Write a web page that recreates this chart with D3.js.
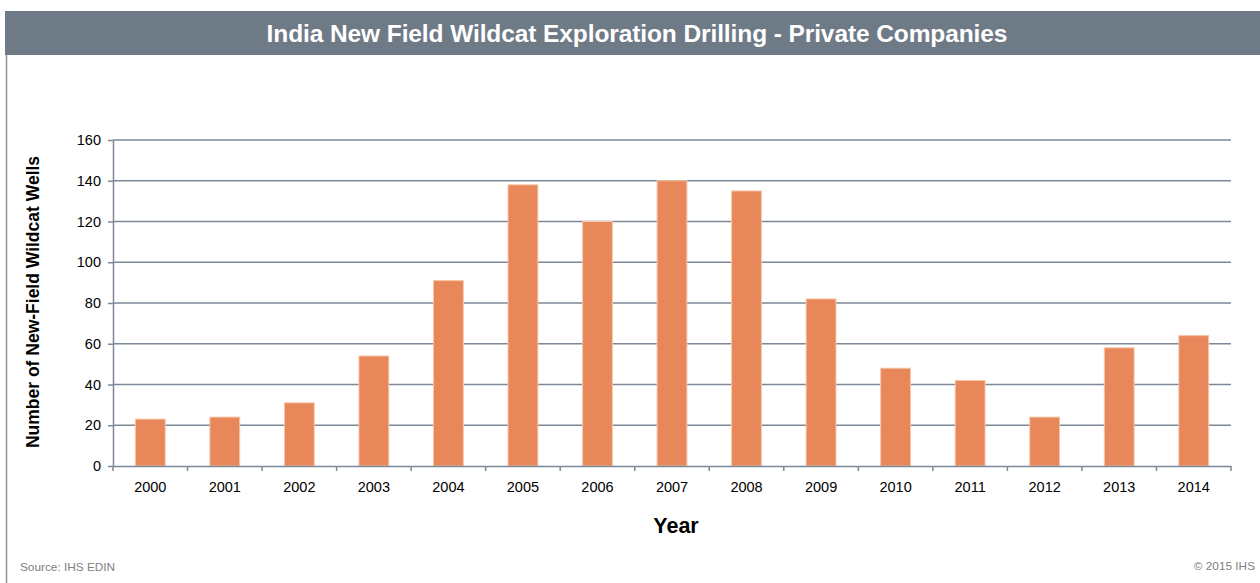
<!DOCTYPE html>
<html>
<head>
<meta charset="utf-8">
<script src="https://cdn.jsdelivr.net/npm/d3@7"></script>
<style>
  body { margin: 0; background: #fff; }
  svg text { font-family: "Liberation Sans", Arial, sans-serif; }
</style>
</head>
<body>
<div id="chart-container"></div>
<script>
// chart data
var years = ['2000', '2001', '2002', '2003', '2004', '2005', '2006', '2007',
             '2008', '2009', '2010', '2011', '2012', '2013', '2014'];
var wells = [23, 24, 31, 54, 91, 138, 120, 140, 135, 82, 48, 42, 24, 58, 64];
var yTicks = [0, 20, 40, 60, 80, 100, 120, 140, 160];

var title = 'India New Field Wildcat Exploration Drilling - Private Companies';

const svgWidth = 1260;
const svgHeight = 583;
const margin = {top: 140, left: 113, bottom: 117, right: 29};
const w = svgWidth - margin.left - margin.right;
const h = svgHeight - margin.top - margin.bottom;

const svg = d3.select('#chart-container')
    .append('svg')
    .attr('width', svgWidth)
    .attr('height', svgHeight);

// title bar
svg.append('rect')
    .attr('x', 5).attr('y', 11)
    .attr('width', svgWidth - 5).attr('height', 44)
    .attr('fill', '#6f7a87');
svg.append('text')
    .attr('x', 637).attr('y', 42)
    .attr('text-anchor', 'middle')
    .attr('fill', '#fff')
    .attr('font-size', 24.5)
    .attr('font-weight', 'bold')
    .attr('letter-spacing', -0.1)
    .text(title);

// left border of frame
svg.append('line')
    .attr('x1', 6.5).attr('x2', 6.5)
    .attr('y1', 55).attr('y2', svgHeight)
    .attr('stroke', '#8a93a0').attr('stroke-width', 1.5);

const chart = svg.append('g')
    .attr('transform', 'translate(' + margin.left + ',' + margin.top + ')');

var x = d3.scaleBand()
    .domain(years)
    .range([0, w])
    .paddingInner(0.6)
    .paddingOuter(0.3);

var y = d3.scaleLinear()
    .domain([0, 160])
    .range([h, 0]);

var gridColor = '#7d8896';

// gridlines
chart.append('g')
    .selectAll('line')
    .data(yTicks.slice(1))
    .enter()
    .append('line')
    .attr('x1', 0).attr('x2', w)
    .attr('y1', function(d) { return y(d); })
    .attr('y2', function(d) { return y(d); })
    .attr('stroke', gridColor)
    .attr('stroke-width', 1.5);

// bars
chart.selectAll('.bar')
    .data(wells)
    .enter()
    .append('rect')
    .attr('class', 'bar')
    .attr('x', function(d, i) { return x(years[i]); })
    .attr('y', function(d) { return y(d); })
    .attr('width', x.bandwidth())
    .attr('height', function(d) { return h - y(d); })
    .attr('fill', '#e8885a')
    .attr('stroke', '#f6c6a8')
    .attr('stroke-width', 1);

// y axis
var yAxis = chart.append('g')
    .call(d3.axisLeft(y).tickValues(yTicks).tickSize(5).tickSizeOuter(0).tickPadding(7));
yAxis.select('.domain').attr('stroke', gridColor).attr('stroke-width', 1.5);
yAxis.selectAll('.tick line').attr('stroke', gridColor).attr('stroke-width', 1.5);
yAxis.selectAll('.tick text').attr('font-size', 14.5).attr('fill', '#000')
    .style('font-family', '"Liberation Sans", Arial, sans-serif');

// x axis (ticks at category boundaries)
var xAxis = chart.append('g')
    .attr('transform', 'translate(0,' + h + ')')
    .call(d3.axisBottom(x).tickSize(0).tickPadding(16));
xAxis.select('.domain').attr('stroke', gridColor).attr('stroke-width', 1.5);
xAxis.selectAll('.tick text').attr('font-size', 14.5).attr('fill', '#000')
    .style('font-family', '"Liberation Sans", Arial, sans-serif');

xAxis.selectAll('.bound')
    .data(d3.range(years.length + 1))
    .enter()
    .append('line')
    .attr('x1', function(i) { return i * w / years.length; })
    .attr('x2', function(i) { return i * w / years.length; })
    .attr('y1', 0).attr('y2', 5)
    .attr('stroke', gridColor).attr('stroke-width', 1.5);

// axis titles
svg.append('text')
    .attr('transform', 'translate(39,' + 302 + ') rotate(-90)')
    .attr('text-anchor', 'middle')
    .attr('font-size', 17.5)
    .attr('font-weight', 'bold')
    .text('Number of New-Field Wildcat Wells');

svg.append('text')
    .attr('x', 676).attr('y', 533)
    .attr('text-anchor', 'middle')
    .attr('font-size', 21.5)
    .attr('font-weight', 'bold')
    .text('Year');

// footer
svg.append('text')
    .attr('x', 20).attr('y', 571)
    .attr('font-size', 11.8)
    .attr('fill', '#808080')
    .text('Source: IHS EDIN');

svg.append('text')
    .attr('x', 1255).attr('y', 570)
    .attr('text-anchor', 'end')
    .attr('font-size', 11.8)
    .attr('fill', '#808080')
    .text('\u00a9 2015 IHS');
</script>
</body>
</html>
